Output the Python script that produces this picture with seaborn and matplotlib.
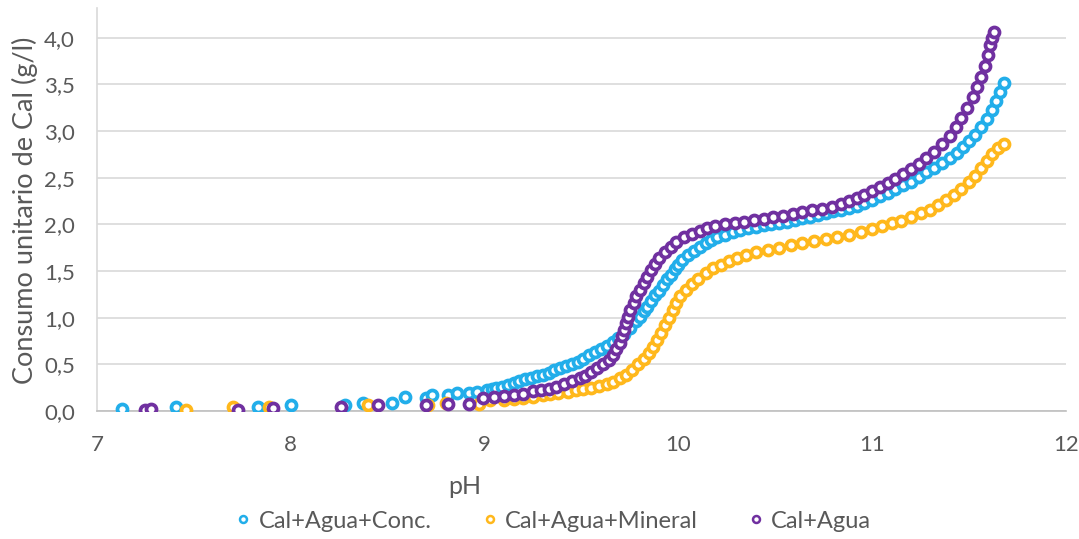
import matplotlib
matplotlib.use("Agg")
import matplotlib.pyplot as plt
from matplotlib.lines import Line2D
import seaborn as sns
import pandas as pd

series_names = ["Cal+Agua+Conc.", "Cal+Agua+Mineral", "Cal+Agua"]
series_colors = ["#22AEEA", "#FFB81C", "#7030A0"]

ph_conc = [7.13, 7.41, 7.83, 8.00, 8.28, 8.37, 8.52, 8.59, 8.70, 8.73, 8.81, 8.86, 8.92, 8.96, 9.01, 9.04,
           9.06, 9.09, 9.12, 9.15, 9.18, 9.21, 9.24, 9.27, 9.30, 9.33, 9.36, 9.39, 9.42, 9.45, 9.48, 9.51,
           9.54, 9.57, 9.60, 9.63, 9.66, 9.69, 9.72, 9.75, 9.78, 9.80, 9.82, 9.84, 9.86, 9.88, 9.90, 9.92,
           9.94, 9.96, 9.98, 10.00, 10.02, 10.05, 10.08, 10.11, 10.14, 10.17, 10.20, 10.24, 10.28, 10.32,
           10.36, 10.40, 10.44, 10.48, 10.52, 10.56, 10.60, 10.64, 10.68, 10.72, 10.76, 10.80, 10.84, 10.88,
           10.92, 10.96, 11.00, 11.04, 11.08, 11.12, 11.16, 11.20, 11.24, 11.28, 11.32, 11.36, 11.40, 11.44,
           11.47, 11.50, 11.53, 11.56, 11.59, 11.62, 11.64, 11.66, 11.68]
cal_conc = [0.02, 0.04, 0.04, 0.06, 0.06, 0.09, 0.09, 0.15, 0.14, 0.17, 0.17, 0.19, 0.19, 0.20, 0.22, 0.24,
            0.25, 0.26, 0.28, 0.30, 0.32, 0.34, 0.35, 0.37, 0.39, 0.41, 0.44, 0.46, 0.48, 0.50, 0.53, 0.56,
            0.60, 0.63, 0.66, 0.70, 0.74, 0.78, 0.83, 0.89, 0.96, 1.01, 1.07, 1.12, 1.18, 1.24, 1.29, 1.35,
            1.41, 1.46, 1.52, 1.57, 1.62, 1.67, 1.72, 1.76, 1.80, 1.83, 1.86, 1.89, 1.92, 1.94,
            1.96, 1.97, 1.99, 2.00, 2.02, 2.03, 2.05, 2.07, 2.08, 2.10, 2.12, 2.14, 2.16, 2.18,
            2.20, 2.23, 2.26, 2.30, 2.34, 2.38, 2.42, 2.46, 2.51, 2.56, 2.61, 2.66, 2.71, 2.77,
            2.83, 2.89, 2.96, 3.04, 3.13, 3.23, 3.32, 3.42, 3.52]

ph_mineral = [7.46, 7.70, 7.89, 8.40, 8.71, 8.80, 8.97, 9.03,
              9.10, 9.15, 9.20, 9.25, 9.30, 9.34, 9.38, 9.43, 9.47, 9.51, 9.55, 9.59, 9.63, 9.66, 9.70,
              9.73, 9.76, 9.79, 9.82, 9.85, 9.87, 9.89, 9.91, 9.93, 9.95, 9.97, 9.99, 10.01, 10.04, 10.07,
              10.10, 10.14, 10.18, 10.22, 10.26, 10.30, 10.35, 10.40, 10.46, 10.52, 10.58, 10.64, 10.70,
              10.76, 10.82, 10.88, 10.94, 11.00, 11.05, 11.10, 11.15, 11.20, 11.25, 11.30, 11.34, 11.38,
              11.42, 11.46, 11.50, 11.53, 11.56, 11.59, 11.62, 11.65, 11.68]
cal_mineral = [0.01, 0.04, 0.04, 0.06, 0.06, 0.09, 0.08, 0.12,
               0.12, 0.13, 0.14, 0.15, 0.17, 0.18, 0.19, 0.20, 0.22, 0.24, 0.25, 0.27, 0.29, 0.31, 0.35,
               0.39, 0.44, 0.50, 0.56, 0.62, 0.69, 0.76, 0.84, 0.92, 1.00, 1.08, 1.16, 1.23, 1.30, 1.36,
               1.42, 1.48, 1.53, 1.57, 1.61, 1.64, 1.67, 1.70, 1.73, 1.75, 1.78, 1.80, 1.82,
               1.84, 1.86, 1.89, 1.92, 1.95, 1.98, 2.01, 2.04, 2.08, 2.12, 2.16, 2.21, 2.26,
               2.32, 2.38, 2.45, 2.52, 2.60, 2.68, 2.76, 2.82, 2.86]

ph_agua = [7.25, 7.28, 7.73, 7.91, 8.26, 8.45, 8.70, 8.81, 8.92, 8.99, 9.05,
           9.10, 9.15, 9.20, 9.25, 9.29, 9.33, 9.37, 9.41, 9.45, 9.49, 9.52, 9.55, 9.58, 9.61, 9.64,
           9.66, 9.68, 9.70, 9.71, 9.72, 9.73, 9.74, 9.75, 9.77, 9.78, 9.80, 9.82, 9.84, 9.86, 9.88,
           9.90, 9.93, 9.96, 9.99, 10.03, 10.07, 10.11, 10.15, 10.19, 10.24, 10.29, 10.34, 10.39, 10.44,
           10.49, 10.54, 10.59, 10.64, 10.69, 10.74, 10.79, 10.84, 10.88, 10.92, 10.96, 11.00, 11.04,
           11.08, 11.12, 11.16, 11.20, 11.24, 11.28, 11.32, 11.36, 11.40, 11.43, 11.46, 11.49, 11.52,
           11.54, 11.56, 11.58, 11.60, 11.61, 11.62, 11.63]
cal_agua = [0.01, 0.02, 0.01, 0.03, 0.04, 0.06, 0.06, 0.08, 0.08, 0.14, 0.15,
            0.16, 0.17, 0.18, 0.21, 0.22, 0.24, 0.26, 0.29, 0.32, 0.35, 0.38, 0.42, 0.46, 0.50, 0.55,
            0.60, 0.66, 0.73, 0.80, 0.87, 0.94, 1.01, 1.08, 1.16, 1.23, 1.30, 1.37, 1.44, 1.51, 1.58,
            1.64, 1.70, 1.76, 1.81, 1.86, 1.90, 1.93, 1.96, 1.98, 2.00, 2.02, 2.03, 2.05, 2.06,
            2.08, 2.09, 2.11, 2.13, 2.15, 2.17, 2.19, 2.22, 2.25, 2.28, 2.32, 2.36, 2.40,
            2.44, 2.49, 2.54, 2.59, 2.65, 2.71, 2.78, 2.86, 2.95, 3.04, 3.14, 3.25, 3.37,
            3.47, 3.58, 3.70, 3.82, 3.92, 4.00, 4.06]

x_ticks = [7, 8, 9, 10, 11, 12]
x_tick_labels = ["7", "8", "9", "10", "11", "12"]
y_ticks = [0.0, 0.5, 1.0, 1.5, 2.0, 2.5, 3.0, 3.5, 4.0]
y_tick_labels = ["0,0", "0,5", "1,0", "1,5", "2,0", "2,5", "3,0", "3,5", "4,0"]

x_label = "pH"
y_label = "Consumo unitario de Cal (g/l)"

df = pd.concat([
    pd.DataFrame({"pH": ph_conc, "Cal": cal_conc, "Serie": series_names[0]}),
    pd.DataFrame({"pH": ph_mineral, "Cal": cal_mineral, "Serie": series_names[1]}),
    pd.DataFrame({"pH": ph_agua, "Cal": cal_agua, "Serie": series_names[2]}),
], ignore_index=True)

sns.set_style("white")
plt.rcParams["font.family"] = ["Lato", "DejaVu Sans"]

fig = plt.figure(figsize=(10.79, 5.39), dpi=100)
ax = fig.add_axes([97 / 1079, 1 - 411 / 539, 969 / 1079, 403 / 539])

palette = dict(zip(series_names, series_colors))
for name in series_names:
    sub = df[df["Serie"] == name]
    col = palette[name]
    sns.scatterplot(data=sub, x="pH", y="Cal", ax=ax, s=52, marker="o",
                    facecolor="white", edgecolor=col, linewidth=2.7, legend=False, zorder=3)

ax.set_xlim(7, 12)
ax.set_ylim(0, 4.32)
ax.set_xticks(x_ticks)
ax.set_xticklabels(x_tick_labels)
ax.set_yticks(y_ticks)
ax.set_yticklabels(y_tick_labels)
ax.tick_params(axis="both", length=0, labelsize=16, labelcolor="#595959")
ax.tick_params(axis="x", pad=17)
ax.tick_params(axis="y", pad=16)
ax.yaxis.grid(True, color="#D9D9D9", linewidth=1.2)
ax.xaxis.grid(False)
ax.set_axisbelow(True)
for side in ["top", "right"]:
    ax.spines[side].set_visible(False)
ax.spines["left"].set_color("#D9D9D9")
ax.spines["left"].set_linewidth(1.2)
ax.spines["bottom"].set_color("#BFBFBF")
ax.spines["bottom"].set_linewidth(1.2)

ax.set_xlabel("")
ax.set_ylabel("")
fig.text(465 / 1079, 1 - 487 / 539, x_label, fontsize=18, color="#595959", ha="center", va="center")
fig.text(25 / 1079, 1 - 210 / 539, y_label, fontsize=19.5, color="#595959", ha="center", va="center",
         rotation=90)

handles = [Line2D([0], [0], marker="o", linestyle="none", markersize=5, markerfacecolor="white",
                  markeredgecolor=c, markeredgewidth=1.8) for c in series_colors]
fig.legend(handles, series_names, loc="center", bbox_to_anchor=(553 / 1079, 1 - 521 / 539), ncol=3,
           frameon=False, fontsize=17, labelcolor="#595959", handletextpad=0.3, columnspacing=2.1,
           handlelength=0.7)

fig.savefig("out.png", dpi=100)
